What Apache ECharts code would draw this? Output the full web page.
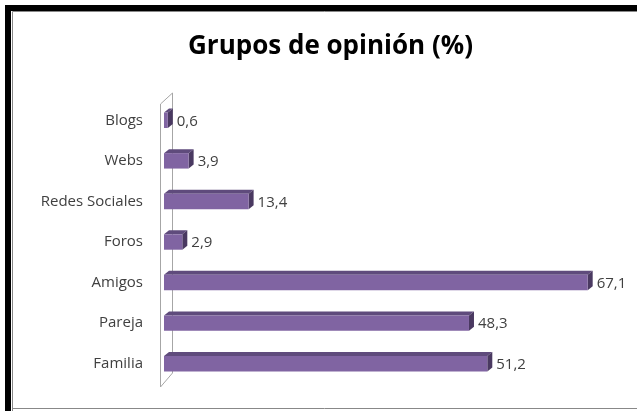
<!DOCTYPE html>
<html>
<head>
<meta charset="utf-8">
<script src="https://cdn.jsdelivr.net/npm/echarts@6/dist/echarts.min.js"></script>
<style>
  html, body { margin: 0; padding: 0; background: #fff; }
  #chart { width: 637px; height: 411px; }
</style>
</head>
<body>
<div id="chart"></div>
<script>
var categories = ['Blogs', 'Webs', 'Redes Sociales', 'Foros', 'Amigos', 'Pareja', 'Familia'];
var values = [0.6, 3.9, 13.4, 2.9, 67.1, 48.3, 51.2];

var myChart = echarts.init(document.getElementById('chart'));

function fmt(v) {
    return v.toFixed(1).replace('.', ',');
}

// bar with a little 3d look: front face, top face, right face
function renderItem(params, api) {
    var v = api.value(0);
    var c = api.value(1);
    var p0 = api.coord([0, c]);
    var p1 = api.coord([v, c]);
    var band = api.size([0, 1])[1];
    var h = band * 0.38;
    var x0 = p0[0], x1 = p1[0];
    var yt = p0[1] - h / 2, yb = p0[1] + h / 2;
    var dx = 5, dy = -4;
    return {
        type: 'group',
        children: [
            { type: 'polygon', shape: { points: [[x0, yt], [x0 + dx, yt + dy], [x1 + dx, yt + dy], [x1, yt]] },
              style: { fill: '#5f4b7c' } },
            { type: 'polygon', shape: { points: [[x1, yt], [x1 + dx, yt + dy], [x1 + dx, yb + dy], [x1, yb]] },
              style: { fill: '#4a3961' } },
            { type: 'rect', shape: { x: x0, y: yt, width: x1 - x0, height: h },
              style: { fill: '#8064a2' } },
            { type: 'text', style: { text: fmt(v), x: x1 + dx + 4, y: p0[1] + 1, verticalAlign: 'middle',
              fill: '#404040', font: '15px "Open Sans"' } }
        ]
    };
}

var option = {
    backgroundColor: '#fff',
    animation: false,
    title: {
        text: 'Grupos de opinión (%)',
        left: 183,
        top: 29,
        textStyle: { fontFamily: 'Open Sans', fontSize: 26, fontWeight: 'bold', color: '#000' }
    },
    grid: { left: 164, right: 31, top: 100, height: 284 },
    xAxis: {
        type: 'value', min: 0, max: 70, show: false
    },
    yAxis: {
        type: 'category',
        data: categories,
        inverse: true,
        axisLine: { show: false },
        axisTick: { show: false },
        axisLabel: { margin: 21, color: '#404040', fontFamily: 'Open Sans', fontSize: 15, padding: [3, 0, 0, 0] }
    },
    graphic: [
        // frame
        { type: 'rect', shape: { x: 5, y: 5, width: 632, height: 6 }, style: { fill: '#000' } },
        { type: 'rect', shape: { x: 5, y: 5, width: 6, height: 406 }, style: { fill: '#000' } },
        { type: 'line', shape: { x1: 12.5, y1: 11.5, x2: 637, y2: 11.5 }, style: { stroke: '#888', lineWidth: 1 } },
        { type: 'line', shape: { x1: 12.5, y1: 11.5, x2: 12.5, y2: 411 }, style: { stroke: '#888', lineWidth: 1 } },
        { type: 'line', shape: { x1: 12, y1: 408.5, x2: 637, y2: 408.5 }, style: { stroke: '#888', lineWidth: 1 } },
        // wall
        { type: 'polyline', shape: { points: [[160.5, 387], [160.5, 104], [172.5, 93], [172.5, 373], [160.5, 387]] },
          style: { fill: 'none', stroke: '#a6a6a6', lineWidth: 1 } }
    ],
    series: [{
        type: 'custom',
        renderItem: renderItem,
        encode: { x: 0, y: 1 },
        data: values.map(function (v, i) { return [v, i]; })
    }]
};
myChart.setOption(option);
</script>
</body>
</html>
